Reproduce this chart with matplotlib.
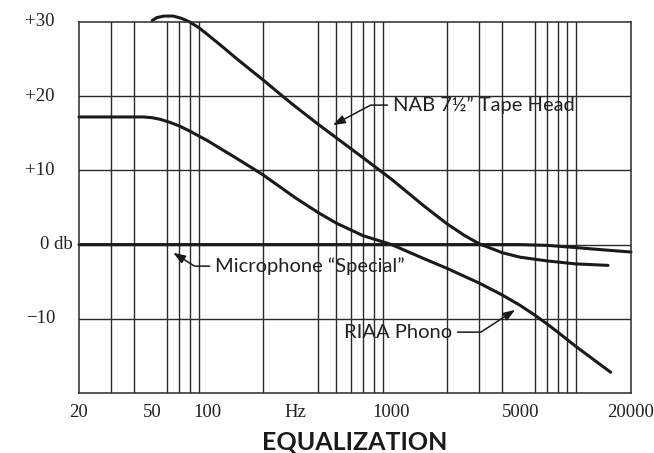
import numpy as np
import matplotlib
matplotlib.use('Agg')
import matplotlib.pyplot as plt
import matplotlib.ticker as ticker

# curves (Hz, dB)
nab_hz = [50, 53, 58, 65, 72, 80, 90, 100, 120, 140, 170, 200, 250, 300, 400, 500, 700,
          1000, 1500, 2000, 2500, 3000, 4000, 5000, 7000, 10000, 15000]
nab_db = [30.2, 30.6, 30.8, 30.8, 30.5, 30.0, 29.2, 28.3, 26.7, 25.3, 23.6, 22.2, 20.2, 18.6, 16.2, 14.4, 11.7,
          8.8, 5.2, 2.8, 1.2, 0.1, -1.1, -1.7, -2.2, -2.6, -2.8]

riaa_hz = [20, 45, 50, 55, 62, 70, 80, 100, 120, 140, 170, 200, 250, 300, 400, 500, 700, 1000,
           1500, 2000, 3000, 4000, 5000, 6000, 7000, 8000, 10000, 15500]
riaa_db = [17.2, 17.2, 17.1, 16.9, 16.5, 16.0, 15.3, 14.0, 12.8, 11.8, 10.5, 9.4, 7.7, 6.3, 4.3, 2.9, 1.2, 0.0,
           -1.9, -3.2, -5.2, -6.8, -8.2, -9.5, -10.7, -11.8, -13.7, -17.2]

mic_hz = [20, 5000, 7000, 10000, 14000, 20000]
mic_db = [0.0, 0.0, -0.1, -0.4, -0.7, -1.0]

grid_hz = [30, 40, 50, 60, 70, 80, 90, 100, 200, 300, 400, 500, 600, 700, 800, 900,
           1000, 2000, 3000, 4000, 5000, 6000, 7000, 8000, 9000, 10000]
x_tick_hz = [20, 50, 100, 300, 1000, 5000, 20000]
x_tick_labels = ['20', '50', '100', 'Hz', '1000', '5000', '20000']
y_tick_db = [30, 20, 10, 0, -10]
y_tick_labels = ['+30', '+20', '+10', '0 db', '\u221210']

line_col = '#1a1a1a'
grid_col = '#2a2a2a'

fig = plt.figure(figsize=(6.54, 4.53), dpi=100)
ax = fig.add_axes([79/654, 1-393/453, 552/654, 371/453])
ax.set_xscale('log')
ax.set_xlim(20, 20000)
ax.set_ylim(-20, 30)

ax.xaxis.set_major_locator(ticker.FixedLocator(x_tick_hz))
ax.xaxis.set_major_formatter(ticker.FixedFormatter(x_tick_labels))
ax.xaxis.set_minor_locator(ticker.FixedLocator(grid_hz))
ax.xaxis.set_minor_formatter(ticker.NullFormatter())
ax.set_yticks([-10, 0, 10, 20])
ax.set_yticklabels([])
ax.tick_params(which='both', length=0)
ax.tick_params(axis='x', pad=8, labelsize=13.5, labelcolor='#222')
for lab in ax.get_xticklabels():
    lab.set_family('Liberation Serif')

ax.grid(which='minor', axis='x', color=grid_col, lw=1.0)
ax.grid(which='major', axis='y', color=grid_col, lw=1.0)
for s in ax.spines.values():
    s.set_color(grid_col)
    s.set_linewidth(1.1)

for d, lab in zip(y_tick_db, y_tick_labels):
    xpos = -0.011 if lab == '0 db' else -0.0435
    ax.text(xpos, d, lab, transform=ax.get_yaxis_transform(), ha='right', va='center',
            fontsize=13.5, family='Liberation Serif', color='#222')

ax.plot(nab_hz, nab_db, color=line_col, lw=2.2, clip_on=False, solid_capstyle='round')
ax.plot(riaa_hz, riaa_db, color=line_col, lw=2.2, clip_on=False, solid_capstyle='round')
ax.plot(mic_hz, mic_db, color=line_col, lw=2.2, clip_on=False, solid_capstyle='round')

arrow = dict(arrowstyle='-|>,head_length=0.5,head_width=0.18', color=line_col, lw=1.1,
             shrinkA=2, shrinkB=0)
ax.annotate('NAB 7\u00bd\u201d Tape Head', xy=(480, 16.1), xytext=(1018, 18.8),
            ha='left', va='center', fontsize=14.5, family='Lato', color='#222',
            arrowprops=dict(arrow, connectionstyle='angle,angleA=0,angleB=28,rad=0'))
ax.annotate('Microphone \u201cSpecial\u201d', xy=(65, -1.1), xytext=(110, -2.9),
            ha='left', va='center', fontsize=14.5, family='Lato', color='#222',
            arrowprops=dict(arrow, connectionstyle='angle,angleA=0,angleB=-32,rad=0'))
ax.annotate('RIAA Phono', xy=(4690, -8.8), xytext=(2130, -11.8),
            ha='right', va='center', fontsize=14.5, family='Lato', color='#222',
            arrowprops=dict(arrow, connectionstyle='angle,angleA=0,angleB=33,rad=0'))

fig.text(355/654, 1-442/453, 'EQUALIZATION', ha='center', va='center',
         fontsize=18, family='Lato', weight='bold', color='#1a1a1a')

fig.savefig('out.png', dpi=100)
